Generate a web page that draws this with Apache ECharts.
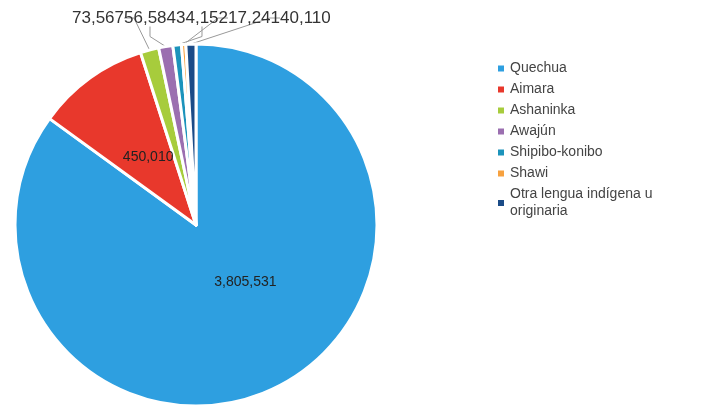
<!DOCTYPE html>
<html>
<head>
<meta charset="utf-8">
<script src="https://cdn.jsdelivr.net/npm/echarts@6/dist/echarts.min.js"></script>
<style>
html,body{margin:0;padding:0;background:#fff;}
#c{width:701px;height:411px;}
</style>
</head>
<body>
<div id="c"></div>
<script>
const categories = ['Quechua', 'Aimara', 'Ashaninka', 'Awajún', 'Shipibo-konibo', 'Shawi', 'Otra lengua indígena u originaria'];
const values = [3805531, 450010, 73567, 56584, 34152, 17241, 40110];
const colors = ['#2e9fe0', '#e8382c', '#a7cc3c', '#9b6fb0', '#1c93bb', '#f7a13f', '#1b4b87'];

const outerX = [72, 124, 176, 228, 280];
const innerShift = [[7, -26], [7, 8]];
const fmt = v => v.toLocaleString('en-US');

const chart = echarts.init(document.getElementById('c'), null, {renderer: 'canvas'});
const data = categories.map((n, i) => {
  const item = {name: n, value: values[i], itemStyle: {color: colors[i]}};
  if (i < 2) {
    item.label = {position: 'inner', color: '#222', fontSize: 14};
    item.labelLine = {show: false};
  }
  return item;
});
chart.setOption({
  animation: false,
  legend: {
    orient: 'vertical',
    left: 491,
    top: 55,
    itemWidth: 8,
    itemHeight: 8,
    itemGap: 4,
    icon: 'rect',
    textStyle: {fontSize: 14, color: '#444', fontFamily: 'Liberation Sans', width: 185, overflow: 'break', lineHeight: 17},
    data: categories
  },
  series: [{
    type: 'pie',
    center: [196, 225],
    radius: ['0%', 181],
    startAngle: 90,
    clockwise: true,
    avoidLabelOverlap: false,
    itemStyle: {borderColor: '#fff', borderWidth: 3},
    label: {
      show: true,
      formatter: p => fmt(p.value),
      fontFamily: 'Liberation Sans',
      fontSize: 17,
      color: '#333'
    },
    labelLine: {show: true, length: 10, length2: 10, lineStyle: {color: '#999', width: 1}},
    labelLayout: function (params) {
      const i = params.dataIndex;
      if (i < 2) return {dx: innerShift[i][0], dy: innerShift[i][1]};
      return {x: outerX[i - 2], y: 18, align: 'left', verticalAlign: 'middle'};
    },
    data: data
  }]
});
</script>
</body>
</html>
